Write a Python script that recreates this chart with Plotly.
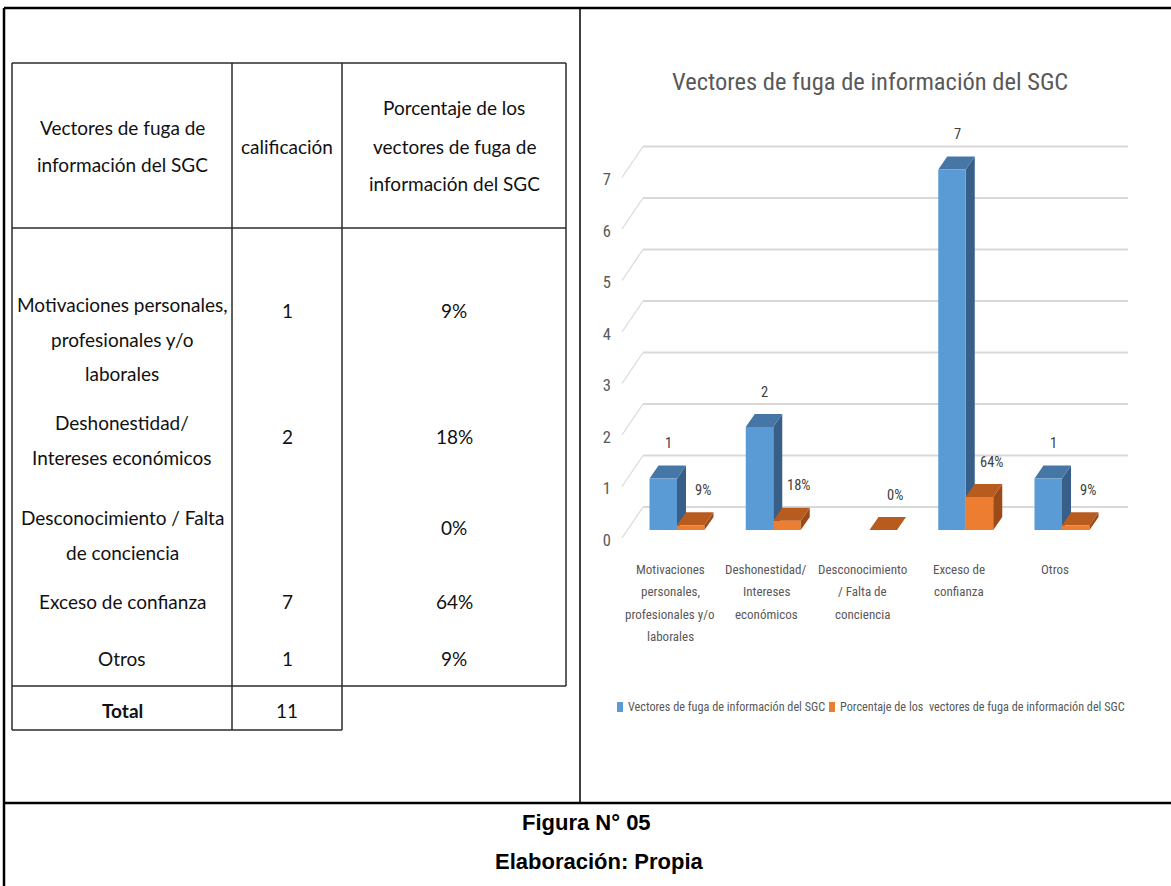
import plotly.graph_objects as go

# ---------------- data ----------------
TITLE = "Vectores de fuga de información del SGC"
SERIES_NAMES = ["Vectores de fuga de información del SGC",
                "Porcentaje de los\u00a0 vectores de fuga de información del SGC"]
TABLE_HEADERS = [["Vectores de fuga de", "información del SGC"],
                 ["calificación"],
                 ["Porcentaje de los", "vectores de fuga de", "información del SGC"]]
CATEGORIES_TABLE = [["Motivaciones personales,", "profesionales y/o", "laborales"],
                    ["Deshonestidad/", "Intereses económicos"],
                    ["Desconocimiento / Falta", "de conciencia"],
                    ["Exceso de confianza"],
                    ["Otros"]]
CATEGORIES_AXIS = [["Motivaciones", "personales,", "profesionales y/o", "laborales"],
                   ["Deshonestidad/", "Intereses", "económicos"],
                   ["Desconocimiento", "/ Falta de", "conciencia"],
                   ["Exceso de", "confianza"],
                   ["Otros"]]
CALIFICACION = [1, 2, None, 7, 1]
PORCENTAJE = [0.09, 0.18, 0.00, 0.64, 0.09]
TOTAL_LABEL = "Total"
TOTAL = 11
Y_TICKS = [0, 1, 2, 3, 4, 5, 6, 7]
CAPTION = ["Figura N° 05", "Elaboración: Propia"]

# ---------------- style ----------------
W, H = 1171, 886
BLUE, BLUE_TOP, BLUE_SIDE = "#5b9bd5", "#4676a6", "#375f88"
ORANGE, ORANGE_TOP, ORANGE_SIDE = "#ed7d31", "#b85b1f", "#9a4b18"
GRID = "#d9d9d9"
TXT = "#595959"
NARROW = "Roboto Condensed, Liberation Sans Narrow, Arial Narrow, Roboto, sans-serif"
TABLE_FONT = "Lato, Liberation Sans, sans-serif"
CAP_FONT = "Liberation Sans, Arial, sans-serif"


def fx(px):
    return px / W


def fy(py):
    return 1 - py / H


# chart geometry (pixels)
X0, SX = 677, 96.25       # pixel of category 0 centre, pixels per category
Y0, SY = 530, 51.5        # pixel of value 0 (bar front), pixels per unit
PL, PR, PT, PB = 612, 1140, 128, 562
XR = [(PL - X0) / SX, (PR - X0) / SX]
YR = [(Y0 - PB) / SY, (Y0 - PT) / SY]
BW = 27.5 / SX
DX, DY = 9 / SX, 13 / SY
WALL_FRONT_X, WALL_FRONT_Y = (622 - X0) / SX, (Y0 - 538) / SY
WALL_BACK_X, WALL_BACK_Y = (643 - X0) / SX, (Y0 - 507) / SY
WALL_RIGHT_X = (1128 - X0) / SX
LABEL_SHIFT = 10 / SY

idx = list(range(len(CALIFICACION)))

fig = go.Figure()
fig.add_trace(go.Bar(x=idx, y=CALIFICACION, offset=-BW, width=BW, name=SERIES_NAMES[0],
                     marker=dict(color=BLUE, line=dict(width=0)), showlegend=False,
                     hoverinfo="skip"))
fig.add_trace(go.Bar(x=idx, y=PORCENTAJE, offset=0, width=BW, name=SERIES_NAMES[1],
                     marker=dict(color=ORANGE, line=dict(width=0)), showlegend=False,
                     hoverinfo="skip"))

shapes = []
annotations = []

# walls: side diagonals + back gridlines
for t in Y_TICKS:
    shapes.append(dict(type="line", xref="x", yref="y", layer="below",
                       x0=WALL_FRONT_X, y0=t + WALL_FRONT_Y, x1=WALL_BACK_X, y1=t + WALL_BACK_Y,
                       line=dict(color=GRID, width=1.2)))
    shapes.append(dict(type="line", xref="x", yref="y", layer="below",
                       x0=WALL_BACK_X, y0=t + WALL_BACK_Y, x1=WALL_RIGHT_X, y1=t + WALL_BACK_Y,
                       line=dict(color=GRID, width=2.2)))


def faces(xl, v, top_c, side_c, layer):
    xr = xl + BW
    top = f"M {xl},{v} L {xl+DX},{v+DY} L {xr+DX},{v+DY} L {xr},{v} Z"
    side = f"M {xr},0 L {xr},{v} L {xr+DX},{v+DY} L {xr+DX},{DY} Z"
    return [dict(type="path", xref="x", yref="y", layer=layer, path=side,
                 fillcolor=side_c, line=dict(width=0)),
            dict(type="path", xref="x", yref="y", layer=layer, path=top,
                 fillcolor=top_c, line=dict(width=0))]


LBL_FONT = dict(family=NARROW, size=14.5, color="#404040")
for i, v in zip(idx, CALIFICACION):
    if v is None:
        continue
    shapes += faces(i - BW, v, BLUE_TOP, BLUE_SIDE, "below")
    annotations.append(dict(xref="x", yref="y", x=i - BW / 2, y=v, xshift=5, yshift=35,
                            text=str(v), showarrow=False, xanchor="center", yanchor="middle",
                            font=LBL_FONT))
for i, p in zip(idx, PORCENTAJE):
    shapes += faces(i, p, ORANGE_TOP, ORANGE_SIDE, "above")
    annotations.append(dict(xref="x", yref="y", x=i + BW / 2, y=p, xshift=12, yshift=35,
                            text=f"{round(p * 100)}%", showarrow=False,
                            xanchor="center", yanchor="middle", font=LBL_FONT))

# category labels
for i, lines in zip(idx, CATEGORIES_AXIS):
    for k, ln in enumerate(lines):
        annotations.append(dict(xref="x", yref="paper", x=i, xshift=-7, y=fy(569 + 22.5 * k),
                                text=ln, showarrow=False, xanchor="center", yanchor="middle",
                                font=dict(family=NARROW, size=13, color=TXT)))

# chart title
annotations.append(dict(xref="paper", yref="paper", x=fx(870), y=fy(82), text=TITLE,
                        showarrow=False, xanchor="center", yanchor="middle",
                        font=dict(family=NARROW, size=24.5, color=TXT)))

# legend (manual, compact like the original)
LEG_Y = 707
for (sx, tx), name, col in zip([(617, 626), (829, 838)], SERIES_NAMES, [BLUE, ORANGE]):
    shapes.append(dict(type="rect", xref="paper", yref="paper", x0=fx(sx), x1=fx(sx + 6),
                       y0=fy(LEG_Y + 5), y1=fy(LEG_Y - 5), fillcolor=col, line=dict(width=0)))
    annotations.append(dict(xref="paper", yref="paper", x=fx(tx), y=fy(LEG_Y), text=name,
                            xanchor="left", yanchor="middle", showarrow=False,
                            font=dict(family=NARROW, size=12.2, color=TXT)))

# ---------------- table ----------------
T_L, T_C1, T_C2, T_R = 12, 232, 342, 566
T_TOP, T_HEAD, T_DBOT, T_TBOT = 63, 228, 686, 730
TL = dict(color="#2b2b2b", width=1.5)


def pline(x0, y0, x1, y1, line):
    shapes.append(dict(type="line", xref="paper", yref="paper",
                       x0=fx(x0), y0=fy(y0), x1=fx(x1), y1=fy(y1), line=line))


pline(T_L, T_TOP, T_R, T_TOP, TL)
pline(T_L, T_HEAD, T_R, T_HEAD, TL)
pline(T_L, T_DBOT, T_R, T_DBOT, TL)
pline(T_L, T_TBOT, T_C2, T_TBOT, TL)
pline(T_L, T_TOP, T_L, T_TBOT, TL)
pline(T_C1, T_TOP, T_C1, T_TBOT, TL)
pline(T_C2, T_TOP, T_C2, T_TBOT, TL)
pline(T_R, T_TOP, T_R, T_DBOT, TL)

col_cx = [(T_L + T_C1) / 2, (T_C1 + T_C2) / 2, (T_C2 + T_R) / 2]
head_y = [[128, 164], [146], [108, 146, 183]]
row_first_y = [304, 422, 517, 601, 658]
row_val_y = [310, 436, 527, 601, 658]
ROW_LS = 35
TOTAL_Y = 710


def ptext(x, y, text, size=19, bold=False, family=TABLE_FONT, color="#111111"):
    annotations.append(dict(xref="paper", yref="paper", x=fx(x), y=fy(y),
                            text=f"<b>{text}</b>" if bold else text,
                            showarrow=False, xanchor="center", yanchor="middle",
                            font=dict(family=family, size=size, color=color)))


for cx, lines, ys in zip(col_cx, TABLE_HEADERS, head_y):
    for ln, y in zip(lines, ys):
        ptext(cx, y, ln)
for lines, y1, yv, v, p in zip(CATEGORIES_TABLE, row_first_y, row_val_y, CALIFICACION, PORCENTAJE):
    for k, ln in enumerate(lines):
        ptext(col_cx[0], y1 + ROW_LS * k, ln)
    if v is not None:
        ptext(col_cx[1], yv, str(v))
    ptext(col_cx[2], yv, f"{round(p * 100)}%")
ptext(col_cx[0], TOTAL_Y, TOTAL_LABEL, bold=True)
ptext(col_cx[1], TOTAL_Y, str(TOTAL))

# ---------------- frame & caption ----------------
FR = dict(color="black", width=2.5)
pline(4, 8, 4, H, FR)
pline(4, 8, W, 8, FR)
pline(580, 8, 580, 803, dict(color="black", width=1.5))
pline(4, 803, W, 803, FR)
ptext(586, 822, CAPTION[0], size=22, bold=True, family=CAP_FONT, color="black")
ptext(599, 861, CAPTION[1], size=22, bold=True, family=CAP_FONT, color="black")

fig.update_layout(
    width=W, height=H, margin=dict(l=0, r=0, t=0, b=0),
    paper_bgcolor="white", plot_bgcolor="rgba(0,0,0,0)",
    barmode="overlay", showlegend=False,
    xaxis=dict(domain=[fx(PL), fx(PR)], range=XR, visible=False, fixedrange=True),
    yaxis=dict(domain=[fy(PB), fy(PT)], range=YR, showgrid=False, zeroline=False,
               showticklabels=False, showline=False, fixedrange=True),
    yaxis2=dict(overlaying="y", anchor="x", side="left",
                range=[YR[0] + LABEL_SHIFT, YR[1] + LABEL_SHIFT],
                tickvals=Y_TICKS, ticktext=[str(t) for t in Y_TICKS],
                showgrid=False, zeroline=False, showline=False, ticks="",
                tickfont=dict(family=NARROW, size=16.5, color=TXT), fixedrange=True),
    shapes=shapes, annotations=annotations,
)
# invisible trace to activate yaxis2
fig.add_trace(go.Scatter(x=[None], y=[None], yaxis="y2", showlegend=False, hoverinfo="skip"))

fig.write_html("out.html", config={"displayModeBar": False},
               post_script="document.body.style.margin='0';")
